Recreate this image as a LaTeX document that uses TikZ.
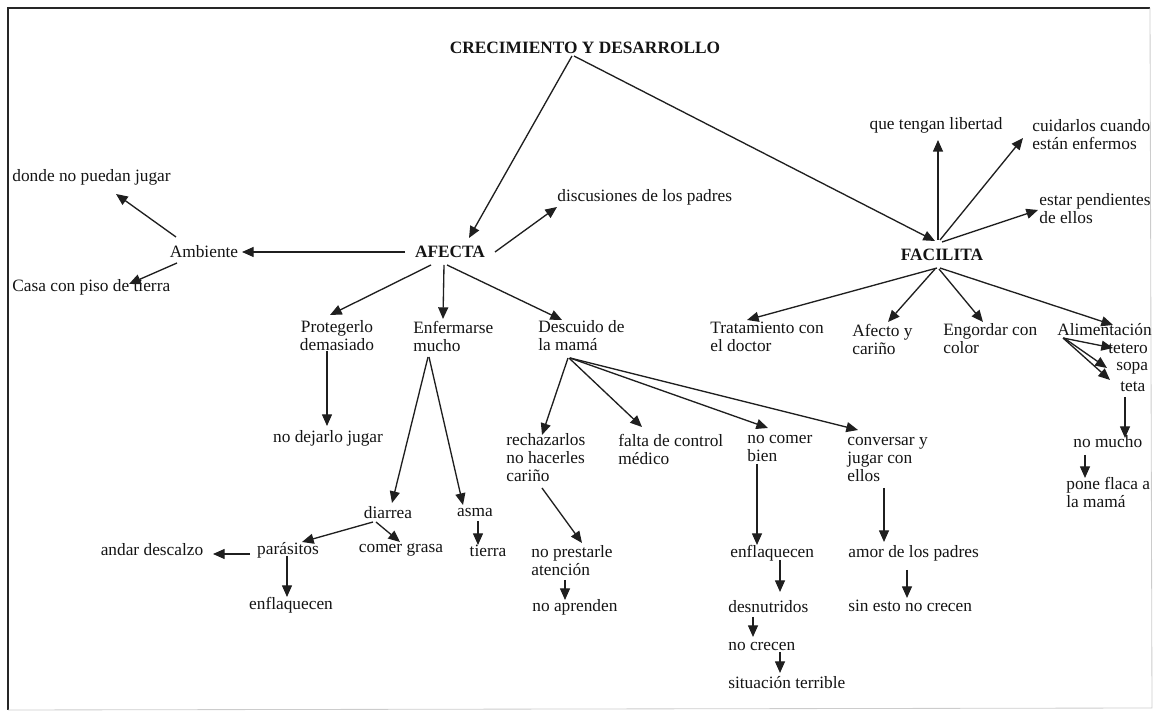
\documentclass[tikz,border=0pt]{standalone}
\usepackage{fontspec}
\setmainfont{Liberation Serif}
\usetikzlibrary{arrows.meta,calc}
\newcommand{\mapfont}{\fontsize{10.4}{10.8}\selectfont}
\tikzset{
  txt/.style={inner sep=0pt, font=\mapfont, align=left, text=black!92},
  ctxt/.style={txt, align=center},
  head/.style={txt, font=\mapfont\bfseries},
  arr/.style={draw=black!88, line width=0.8pt, -{Triangle[length=7pt,width=6pt]}},
  plain/.style={draw=black!88, line width=0.8pt}
}
\begin{document}
\begin{tikzpicture}[x=0.6pt, y=-0.6pt]
\useasboundingbox (0,0) rectangle (1156,714);
% frame
\draw[black!85, line width=1.1pt] (8,710) -- (8,8) -- (1150,8);
\draw[black!20, line width=0.5pt] (1150,8) -- (1152,708) -- (8,710);

% main concepts
\node[head] (title) at (585,48) {CRECIMIENTO Y DESARROLLO};
\node[head] (afecta) at (450,252) {AFECTA};
\node[head] (facilita) at (942,255) {FACILITA};

% AFECTA branch
\node[txt, anchor=west] (disc) at (557,197) {discusiones de los padres};
\node[ctxt] (amb) at (204,252) {Ambiente};
\node[txt, anchor=west] (donde) at (12,177) {donde no puedan jugar};
\node[txt, anchor=west] (casa) at (12,287) {Casa con piso de tierra};
\node[ctxt] (prot) at (337,336) {Protegerlo\\demasiado};
\node[txt, anchor=west] (enf) at (413,336) {Enfermarse\\mucho};
\node[txt, anchor=west] (desc) at (538,336) {Descuido de\\la mamá};
\node[ctxt] (nodej) at (328,438) {no dejarlo jugar};
\node[ctxt] (diarrea) at (388,513) {diarrea};
\node[ctxt] (asma) at (475,513) {asma};
\node[ctxt] (tierra) at (488,551) {tierra};
\node[ctxt] (paras) at (288,550) {parásitos};
\node[ctxt] (grasa) at (401,550) {comer grasa};
\node[ctxt] (andar) at (152,550) {andar descalzo};
\node[ctxt] (enfl1) at (291,605) {enflaquecen};
\node[txt, anchor=west] (rech) at (506,458) {rechazarlos\\no hacerles\\cariño};
\node[txt, anchor=west] (falta) at (618,449) {falta de control\\ médico};
\node[txt, anchor=west] (nocomer) at (747,449) {no comer\\bien};
\node[txt, anchor=west] (conv) at (847,460) {conversar y\\jugar con\\ellos};
\node[txt, anchor=west] (nopres) at (531,561) {no prestarle\\atención};
\node[txt, anchor=west] (noapr) at (532,607) {no aprenden};
\node[txt, anchor=west] (enfl2) at (730,553) {enflaquecen};
\node[txt, anchor=west] (desn) at (728,607) {desnutridos};
\node[txt, anchor=west] (nocre) at (728,647) {no crecen};
\node[txt, anchor=west] (sit) at (728,683) {situación terrible};
\node[txt, anchor=west] (amor) at (848,553) {amor de los padres};
\node[txt, anchor=west] (sinesto) at (848,606) {sin esto no crecen};

% FACILITA branch
\node[ctxt] (lib) at (936,125) {que tengan libertad};
\node[txt, anchor=west] (cuid) at (1032,135) {cuidarlos cuando\\están enfermos};
\node[txt, anchor=west] (pend) at (1039,209) {estar pendientes\\de ellos};
\node[txt, anchor=west] (trat) at (710,337) {Tratamiento con\\el doctor};
\node[txt, anchor=west] (afec) at (852,339) {Afecto y\\cariño};
\node[txt, anchor=west] (engo) at (943,339) {Engordar con\\color};
\node[txt, anchor=west] (alim) at (1057,330) {Alimentación};
\node[txt, anchor=west] (tetero) at (1108,349) {tetero};
\node[txt, anchor=west] (sopa) at (1116,368) {sopa};
\node[txt, anchor=west] (teta) at (1120,387) {teta};
\node[txt, anchor=west] (nomucho) at (1073,442) {no mucho};
\node[txt, anchor=west] (pone) at (1066,492) {pone flaca a\\la mamá};

% connectors from the title
\draw[arr] ($(title)+(-13,8)$) -- ($(afecta)+(19,-14)$);
\draw[arr] ($(title)+(-11,8)$) -- ($(facilita)+(-7,-14)$);

% connectors of AFECTA
\draw[arr] ($(afecta)+(45,0)$) -- ($(disc.west)+(0,10)$);
\draw[arr] ($(afecta)+(-45,0)$) -- ($(amb)+(38,0)$);
\draw[arr] ($(amb)+(-28,-15)$) -- ($(donde.west)+(104,17)$);
\draw[arr] ($(amb)+(-27,11)$) -- ($(casa.west)+(117,-3)$);
\draw[arr] ($(afecta)+(-19,13)$) -- ($(prot)+(-7,-21)$);
\draw[arr] ($(afecta)+(-6,13)$) -- ($(enf.west)+(30,-17)$);
\draw[arr] ($(afecta)+(-3,13)$) -- ($(desc.west)+(24,-16)$);
\draw[arr] ($(prot)+(-10,15)$) -- ($(nodej)+(-1,-12)$);
\draw[arr] ($(enf.west)+(15,21)$) -- ($(diarrea)+(4,-10)$);
\draw[arr] ($(enf.west)+(16,21)$) -- ($(asma)+(-12,-8)$);
\draw[arr] ($(asma)+(3,8)$) -- ($(tierra)+(-10,-6)$);
\draw[arr] ($(diarrea)+(-15,9)$) -- ($(paras)+(14,-8)$);
\draw[arr] ($(diarrea)+(-12,9)$) -- ($(grasa)+(-1,-8)$);
\draw[arr] ($(paras)+(-38,4)$) -- ($(andar)+(61,4)$);
\draw[arr] ($(paras)+(-1,6)$) -- ($(enfl1)+(-4,-8)$);
\draw[arr] ($(desc.west)+(30,22)$) -- ($(rech.west)+(36,-23)$);
\draw[arr] ($(desc.west)+(31,22)$) -- ($(falta.west)+(24,-22)$);
\draw[arr] ($(desc.west)+(32,22)$) -- ($(nocomer.west)+(21,-21)$);
\draw[arr] ($(desc.west)+(32,22)$) -- ($(conv.west)+(11,-30)$);
\draw[arr] ($(rech.west)+(36,30)$) -- ($(nopres.west)+(51,-18)$);
\draw[arr] ($(nopres.west)+(34,19)$) -- ($(noapr.west)+(33,-7)$);
\draw[arr] ($(nocomer.west)+(10,15)$) -- ($(enfl2.west)+(27,-8)$);
\draw[arr] ($(enfl2.west)+(50,7)$) -- ($(desn.west)+(52,-15)$);
\draw[arr] ($(desn.west)+(25,10)$) -- ($(nocre.west)+(25,-10)$);
\draw[arr] ($(nocre.west)+(52,5)$) -- ($(sit.west)+(52,-10)$);
\draw[arr] ($(conv.west)+(37,28)$) -- ($(amor.west)+(36,-11)$);
\draw[arr] ($(amor.west)+(59,17)$) -- ($(sinesto.west)+(59,-8)$);

% connectors of FACILITA
\draw[arr] ($(facilita)+(-4,-15)$) -- ($(lib)+(2,15)$);
\draw[arr] ($(facilita)+(-2,-15)$) -- ($(cuid.west)+(-9,3)$);
\draw[arr] ($(facilita)+(0,-13)$) -- ($(pend.west)+(-1,1)$);
\draw[arr] ($(facilita)+(-5,13)$) -- ($(trat.west)+(37,-17)$);
\draw[arr] ($(facilita)+(-7,14)$) -- ($(afec.west)+(36,-17)$);
\draw[arr] ($(facilita)+(-3,14)$) -- ($(engo.west)+(40,-17)$);
\draw[arr] ($(facilita)+(-2,13)$) -- ($(alim.west)+(56,-5)$);
\draw[arr] ($(alim.west)+(6,8)$) -- ($(tetero.west)+(5,-1)$);
\draw[arr] ($(alim.west)+(7,8)$) -- ($(sopa.west)+(-9,0)$);
\draw[arr] ($(alim.west)+(6,8)$) -- ($(teta.west)+(-10,-7)$);
\draw[arr] ($(teta.west)+(5,10)$) -- ($(nomucho.west)+(52,-4)$);
\draw[arr] ($(nomucho.west)+(12,13)$) -- ($(pone.west)+(19,-14)$);
\end{tikzpicture}
\end{document}
